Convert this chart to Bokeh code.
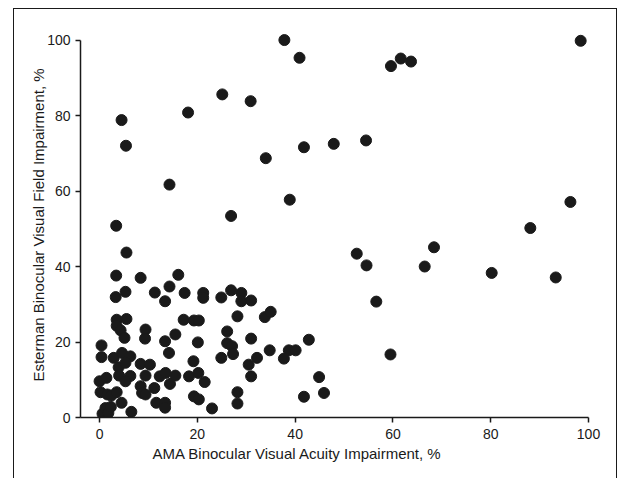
from bokeh.plotting import figure
from bokeh.models import Range1d, FixedTicker, Title
from bokeh.embed import file_html
from bokeh.resources import INLINE

# AMA binocular visual acuity impairment, %
acuity = [
    37.8, 40.9, 25.1, 30.9, 18.1, 4.5, 5.4, 41.8, 47.9, 34.0,
    14.3, 38.9, 26.9, 3.4, 98.4, 59.6, 61.6, 63.7, 54.5, 96.3,
    88.1, 52.6, 54.6, 68.4, 66.5, 80.2, 93.3, 56.6, 59.5,
    33.8, 35.0, 42.8, 34.8, 38.7, 40.1, 37.7, 44.9, 45.9, 41.8,
    5.5, 3.4, 8.4, 16.1, 3.3, 5.3, 11.3, 14.3, 13.4, 17.4,
    21.2, 21.2, 24.9, 26.9, 29.0, 29.0, 31.0, 3.5, 5.5, 3.5,
    4.3, 5.1, 9.4, 9.3, 15.5, 17.2, 19.3, 20.3, 20.1, 13.4,
    14.2, 28.2, 26.1, 26.1, 27.1, 27.3, 31.0, 32.2, 24.9, 0.4,
    0.4, 2.9, 4.6, 6.3, 3.9, 5.3, 8.4, 10.3, 4.0, 6.3,
    5.3, 9.4, 12.3, 13.5, 15.5, 14.4, 18.3, 19.2, 20.2, 21.5,
    30.5, 31.0, 0.0, 1.4, 0.2, 1.6, 2.4, 3.5, 4.5, 8.4,
    8.7, 9.4, 11.2, 11.6, 13.4, 13.4, 19.3, 20.3, 23.0, 28.2,
    28.2, 6.5, 0.6, 1.2, 1.8, 2.3,
]
# Esterman binocular visual field impairment, %
field = [
    100.0, 95.3, 85.6, 83.8, 80.8, 78.8, 72.0, 71.6, 72.5, 68.7,
    61.7, 57.7, 53.4, 50.8, 99.8, 93.1, 95.1, 94.3, 73.4, 57.1,
    50.2, 43.4, 40.3, 45.1, 40.0, 38.3, 37.1, 30.7, 16.7,
    26.6, 28.0, 20.6, 17.8, 17.8, 17.8, 15.6, 10.7, 6.5, 5.5,
    43.7, 37.6, 37.0, 37.8, 31.9, 33.3, 33.1, 34.7, 30.8, 33.0,
    33.0, 31.7, 31.8, 33.7, 33.0, 30.8, 31.0, 25.9, 26.1, 24.3,
    23.1, 21.1, 23.3, 20.9, 22.0, 25.9, 25.7, 25.7, 19.9, 20.2,
    17.1, 26.8, 22.8, 19.7, 18.9, 16.8, 20.9, 15.8, 15.8, 19.1,
    16.0, 15.8, 17.1, 16.2, 13.3, 14.5, 14.2, 14.0, 11.1, 11.0,
    9.6, 11.1, 10.9, 11.8, 11.1, 8.9, 10.9, 14.9, 11.8, 9.4,
    14.0, 10.9, 9.6, 10.5, 6.7, 6.1, 5.8, 6.7, 3.9, 8.3,
    6.5, 6.1, 7.8, 3.9, 3.9, 2.6, 5.6, 4.8, 2.4, 6.7,
    3.7, 1.5, 1.0, 2.5, 1.2, 2.8,
]

x_ticks = [0, 20, 40, 60, 80, 100]
y_ticks = [0, 20, 40, 60, 80, 100]
x_title = "AMA Binocular Visual Acuity Impairment, %"
y_title = "Esterman Binocular Visual Field Impairment, %"

FONT = "Liberation Sans"
INK = "#1a1a1a"

p = figure(
    width=604, height=472,
    output_backend="svg", toolbar_location=None,
    x_range=Range1d(-3.9, 100), y_range=Range1d(0, 102),
    min_border_left=66, min_border_right=30,
    min_border_top=23, min_border_bottom=64,
)
p.styles = {"border": "1.5px solid #1a1a1a", "margin-left": "13px", "margin-top": "8px"}
p.outline_line_color = None
p.xgrid.visible = False
p.ygrid.visible = False
p.background_fill_color = "white"
p.border_fill_color = "white"

p.scatter(acuity, field, size=11, marker="circle",
          fill_color=INK, line_color=INK)

for ax in (p.xaxis[0], p.yaxis[0]):
    ax.axis_line_color = INK
    ax.axis_line_width = 1.5
    ax.major_tick_line_color = INK
    ax.major_tick_line_width = 1.5
    ax.major_tick_out = 5
    ax.major_tick_in = 0
    ax.minor_tick_line_color = None
    ax.major_label_text_font = FONT
    ax.major_label_text_font_size = "14px"
    ax.major_label_text_color = INK

p.xaxis.ticker = FixedTicker(ticks=x_ticks)
p.yaxis.ticker = FixedTicker(ticks=y_ticks)
p.yaxis.bounds = (0, 100)
p.xaxis.major_label_standoff = 6
p.yaxis.major_label_standoff = 5

p.yaxis.axis_label = y_title
p.yaxis.axis_label_text_font = FONT
p.yaxis.axis_label_text_font_size = "15px"
p.yaxis.axis_label_text_font_style = "normal"
p.yaxis.axis_label_text_color = INK
p.yaxis.axis_label_standoff = -3

t = Title(text=x_title, align="left", offset=72, text_font=FONT,
          text_font_size="15px", text_font_style="normal", text_color=INK,
          standoff=2)
p.add_layout(t, "below")

open("out.html", "w").write(file_html(p, INLINE))
